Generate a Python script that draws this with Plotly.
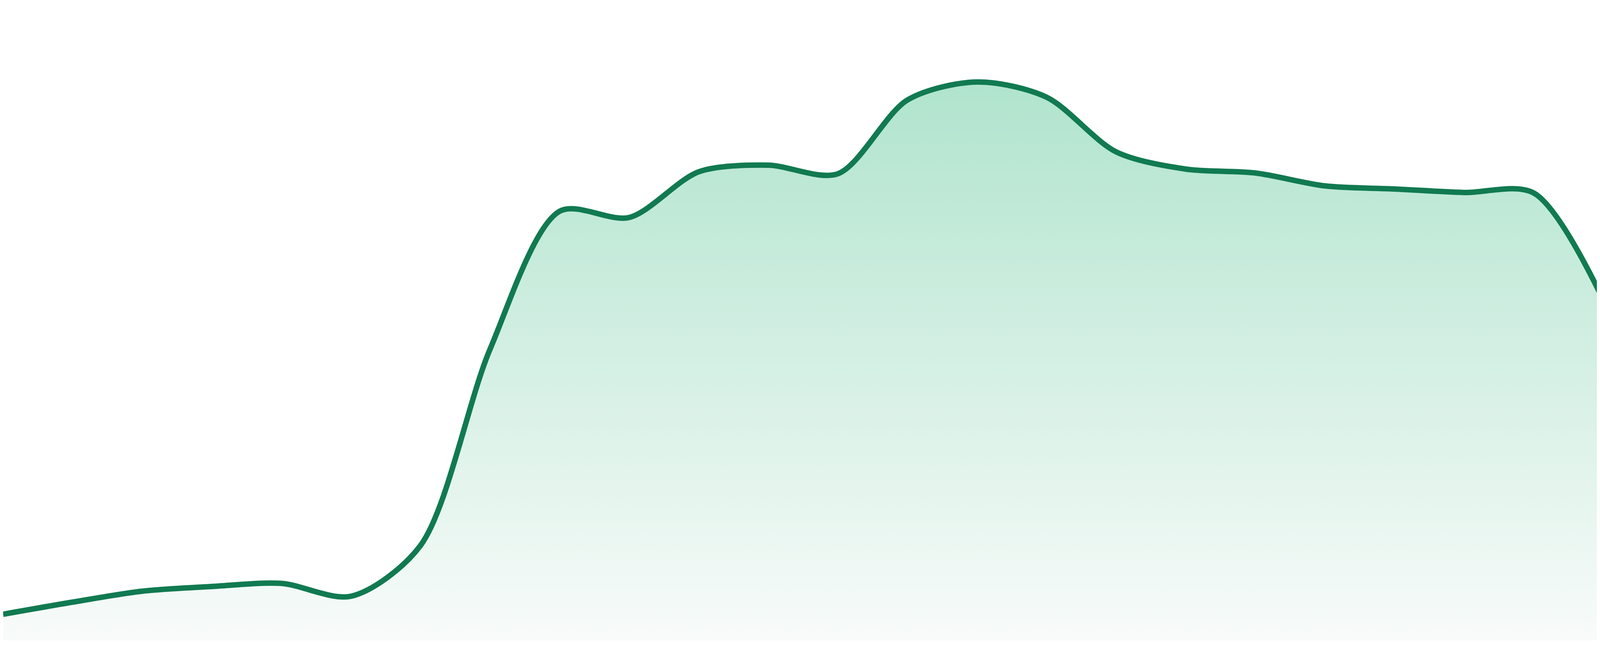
import plotly.graph_objects as go

# Point index (evenly spaced categories across the width)
x_idx = list(range(24))

# Series values (arbitrary units, baseline = 0)
values = [6.7, 9.8, 12.6, 13.8, 14.6, 11.3, 24.3, 74.6, 109.9, 108.3,
          120.0, 121.7, 119.5, 138.4, 143.0, 139.1, 125.1, 120.7, 119.7,
          116.4, 115.6, 114.7, 114.6, 87.3]

LINE_COLOR = "#117a51"
FILL_TOP = "#b0e4cd"
FILL_BOTTOM = "#f8fbfa"

fig = go.Figure()
fig.add_trace(go.Scatter(
    x=x_idx,
    y=values,
    mode="lines",
    line=dict(color=LINE_COLOR, width=14, shape="spline", smoothing=0.85),
    fill="tozeroy",
    fillgradient=dict(type="vertical", start=0, stop=143.0,
                      colorscale=[[0, FILL_BOTTOM], [1, FILL_TOP]]),
    hoverinfo="skip",
    showlegend=False,
))

fig.update_layout(
    autosize=True,
    margin=dict(l=0, r=0, t=0, b=48),
    paper_bgcolor="white",
    plot_bgcolor="white",
    showlegend=False,
    xaxis=dict(range=[0, 23], visible=False, showgrid=False, zeroline=False,
               fixedrange=True),
    yaxis=dict(range=[0, 163.2], visible=False, showgrid=False, zeroline=False,
               fixedrange=True),
)

fig.write_html("out.html", config={"responsive": True, "displayModeBar": False},
               default_width="100vw", default_height="100vh")
